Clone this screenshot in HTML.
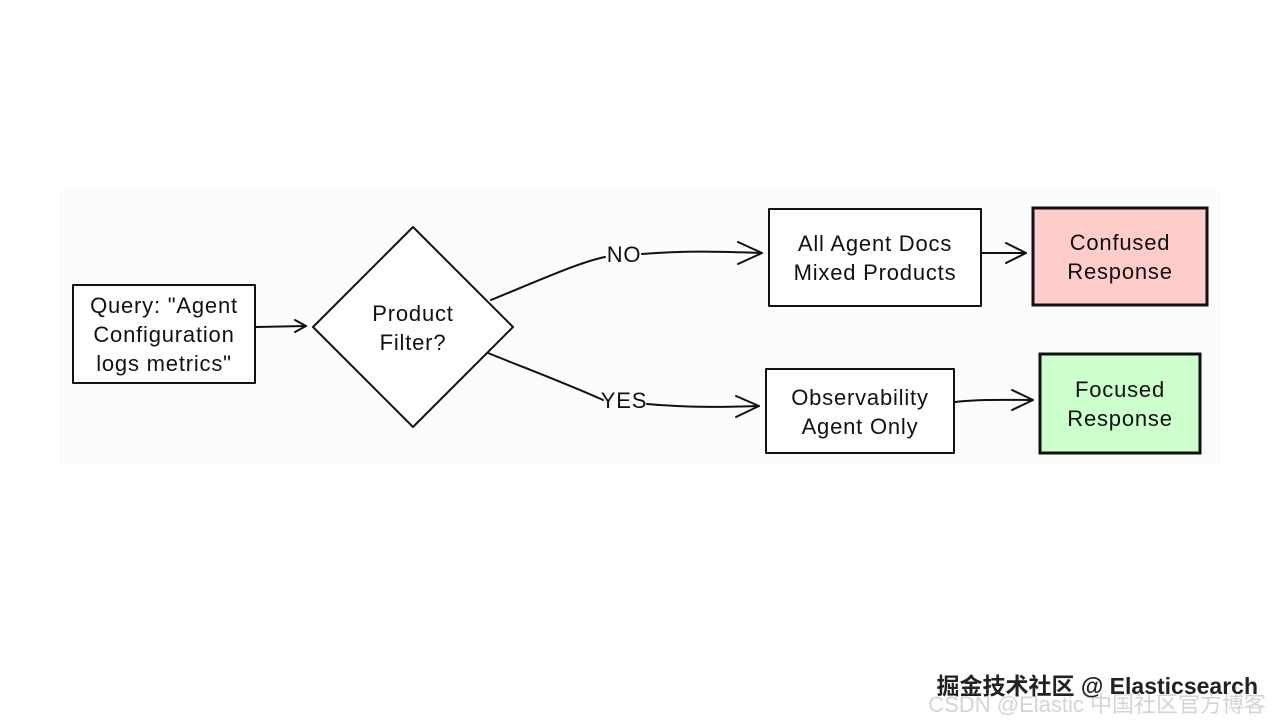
<!DOCTYPE html>
<html><head><meta charset="utf-8"><style>
html,body{margin:0;padding:0;background:#fff;}
svg{display:block}
text{font-family:"Liberation Sans","Noto Sans CJK SC",sans-serif;fill:#111;}
</style></head><body>
<svg width="1280" height="720" viewBox="0 0 1280 720" xmlns="http://www.w3.org/2000/svg">
<rect x="0" y="0" width="1280" height="720" fill="#fff"/>
<rect x="58" y="190" width="1164" height="275" fill="#fcfcfc"/>
<g fill="none" stroke="#111" stroke-width="2" stroke-linecap="round" stroke-linejoin="round">
<rect x="73" y="285" width="182" height="98" fill="#fff"/>
<polygon points="413,227 513,327 413,427 313,327" fill="#fff"/>
<line x1="256" y1="327" x2="306" y2="326"/>
<polyline points="295,320 306,326 295,332"/>
<path d="M491,300 C540,280 580,262 605,257"/>
<path d="M642,254 C690,250 730,252 762,253"/>
<polyline points="738,242 762,253 738,264"/>
<path d="M488,353 C530,370 570,385 603,400"/>
<path d="M647,404 C690,408 730,407 759,406"/>
<polyline points="736,396 759,406 736,417"/>
<rect x="769" y="209" width="212" height="97" fill="#fff"/>
<rect x="766" y="369" width="188" height="84" fill="#fff"/>
<line x1="982" y1="253" x2="1026" y2="253"/>
<polyline points="1006,243 1026,253 1006,263"/>
<path d="M955,402 C980,399 1010,400 1033,400"/>
<polyline points="1012,390 1033,400 1012,410"/>
</g>
<rect x="1033" y="208" width="174" height="97" fill="#ffcccc" stroke="#111" stroke-width="3"/>
<rect x="1040" y="354" width="160" height="99" fill="#ccffcc" stroke="#111" stroke-width="3"/>
<g font-size="22" text-anchor="middle" letter-spacing="0.8">
<text x="164" y="313">Query: "Agent</text>
<text x="164" y="342">Configuration</text>
<text x="164" y="371">logs metrics"</text>
<text x="413" y="321">Product</text>
<text x="413" y="350">Filter?</text>
<text x="624" y="262">NO</text>
<text x="624" y="408">YES</text>
<text x="875" y="251">All Agent Docs</text>
<text x="875" y="280">Mixed Products</text>
<text x="860" y="405">Observability</text>
<text x="860" y="434">Agent Only</text>
<text x="1120" y="250">Confused</text>
<text x="1120" y="279">Response</text>
<text x="1120" y="397">Focused</text>
<text x="1120" y="426">Response</text>
</g>
<text x="1266" y="712" font-size="22" text-anchor="end" style="fill:#d4d4d4">CSDN @Elastic 中国社区官方博客</text>
<text x="1258" y="694" font-size="23" font-weight="bold" text-anchor="end" style="fill:#222;stroke:#fff;stroke-width:0.8;paint-order:stroke">掘金技术社区 @ Elasticsearch</text>
</svg>
</body></html>
